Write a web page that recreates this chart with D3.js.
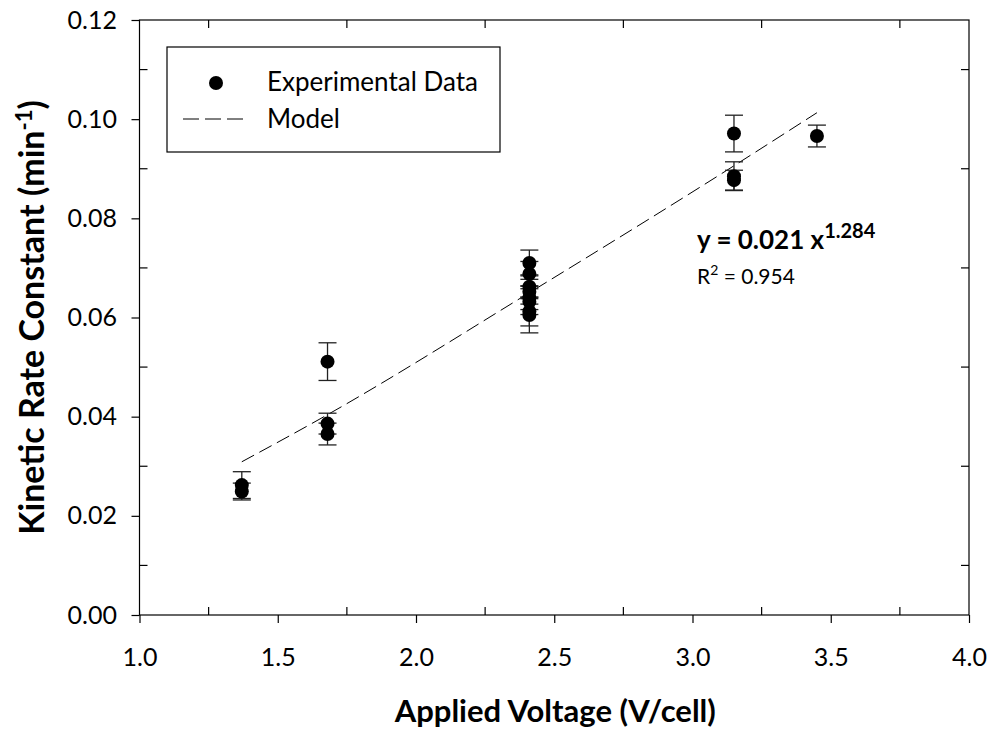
<!DOCTYPE html>
<html><head><meta charset="utf-8">
<script src="https://cdn.jsdelivr.net/npm/d3@7"></script>
<style>body{margin:0;background:#fff}svg{display:block}text{font-family:Lato,"Open Sans",sans-serif;fill:#000}</style>
</head><body>
<svg id="c" width="995" height="734"></svg>
<script>
// Data
const voltage = [1.37,1.37, 1.68,1.68,1.68, 2.41,2.41,2.41,2.41,2.41,2.41,2.41,2.41, 3.15,3.15,3.15, 3.45];
const rate    = [0.0262,0.0249, 0.0511,0.0386,0.0365, 0.0710,0.0688,0.0662,0.0652,0.0640,0.0632,0.0612,0.0605, 0.0971,0.0885,0.0877, 0.0966];
const rateErr = [0.0027,0.0017, 0.0038,0.0021,0.0022, 0.0026,0.0025,0.0024,0.0025,0.0024,0.0026,0.0029,0.0036, 0.0037,0.0029,0.0020, 0.0022];
const modelV  = [1.37,1.68,2.41,3.15,3.45];
const modelK  = [0.0309,0.0404,0.0650,0.0906,0.1013];
const xTicks = [1.0,1.5,2.0,2.5,3.0,3.5,4.0];
const xMinor = [1.25,1.75,2.25,2.75,3.25,3.75];
const yTicks = [0.00,0.02,0.04,0.06,0.08,0.10,0.12];
const yMinor = [0.01,0.03,0.05,0.07,0.09,0.11];

const L=139.5,R=969,T=20,B=615;
const x=d3.scaleLinear().domain([1,4]).range([L,R]);
const y=d3.scaleLinear().domain([0,0.12]).range([B,T]);
const svg=d3.select("#c");

// frame
svg.append("rect").attr("x",L).attr("y",T).attr("width",R-L).attr("height",B-T)
  .attr("fill","none").attr("stroke","#000").attr("stroke-width",1.2);

// axes
const ax=svg.append("g").attr("transform",`translate(0,${B})`)
  .call(d3.axisBottom(x).tickValues(xTicks).tickFormat(d3.format(".1f")).tickSize(8));
ax.selectAll("text").attr("y",51).attr("dy",0);
const ay=svg.append("g").attr("transform",`translate(${L},0)`)
  .call(d3.axisLeft(y).tickValues(yTicks).tickFormat(d3.format(".2f")).tickSize(8).tickPadding(14.5));
[ax,ay].forEach(g=>{g.select(".domain").remove();g.selectAll("line").attr("stroke","#000").attr("stroke-width",1.2);
  g.selectAll("text").style("font-size","25px").style("font-family","Lato,sans-serif").attr("fill","#000");});
// minor ticks inward
const mg=svg.append("g").attr("stroke","#000").attr("stroke-width",1.2);
xMinor.forEach(v=>{mg.append("line").attr("x1",x(v)).attr("x2",x(v)).attr("y1",B).attr("y2",B-8);
  mg.append("line").attr("x1",x(v)).attr("x2",x(v)).attr("y1",T).attr("y2",T+8);});
yMinor.forEach(v=>{mg.append("line").attr("x1",L).attr("x2",L+8).attr("y1",y(v)).attr("y2",y(v));
  mg.append("line").attr("x1",R).attr("x2",R-8).attr("y1",y(v)).attr("y2",y(v));});

// axis titles
svg.append("text").attr("x",(L+R)/2 + 1).attr("y",722).attr("text-anchor","middle")
  .style("font-size","31px").style("font-weight","bold").text("Applied Voltage (V/cell)");
const yt=svg.append("text").attr("transform",`translate(44,${(T+B)/2}) rotate(-90)`).attr("text-anchor","middle")
  .style("font-size","34px").style("font-weight","bold");
yt.append("tspan").text("Kinetic Rate Constant (min");
yt.append("tspan").attr("dy",-12).style("font-size","22px").text("-1");
yt.append("tspan").attr("dy",12).text(")");

// model line
const line=d3.line().x((d,i)=>x(modelV[i])).y((d,i)=>y(modelK[i])).curve(d3.curveMonotoneX);
svg.append("path").attr("d",line(modelV)).attr("fill","none").attr("stroke","#000")
  .attr("stroke-width",1).attr("stroke-dasharray","14,6");

// error bars
const eg=svg.append("g").attr("stroke","#222").attr("stroke-width",1.3);
voltage.forEach((v,i)=>{
  const cx=x(v),y1=y(rate[i]+rateErr[i]),y2=y(rate[i]-rateErr[i]);
  eg.append("line").attr("x1",cx).attr("x2",cx).attr("y1",y1).attr("y2",y2);
  eg.append("line").attr("x1",cx-9).attr("x2",cx+9).attr("y1",y1).attr("y2",y1);
  eg.append("line").attr("x1",cx-9).attr("x2",cx+9).attr("y1",y2).attr("y2",y2);
});
svg.append("g").selectAll("circle").data(voltage).join("circle")
  .attr("cx",d=>x(d)).attr("cy",(d,i)=>y(rate[i])).attr("r",7).attr("fill","#000");

// legend
svg.append("rect").attr("x",167).attr("y",47).attr("width",333).attr("height",105)
  .attr("fill","#fff").attr("stroke","#000").attr("stroke-width",1.2);
svg.append("circle").attr("cx",216).attr("cy",83).attr("r",7).attr("fill","#000");
svg.append("text").attr("x",267).attr("y",91).style("font-size","26px").text("Experimental Data");
svg.append("line").attr("x1",183).attr("x2",244).attr("y1",119).attr("y2",119)
  .attr("stroke","#000").attr("stroke-width",1).attr("stroke-dasharray","16,6");
svg.append("text").attr("x",267).attr("y",128).style("font-size","26px").text("Model");

// annotation
const a1=svg.append("text").attr("x",697).attr("y",249).style("font-size","26px").style("font-weight","bold");
a1.append("tspan").text("y = 0.021 x");
a1.append("tspan").attr("dy",-11).style("font-size","20px").text("1.284");
const a2=svg.append("text").attr("x",697).attr("y",284).style("font-size","21px");
a2.append("tspan").text("R");
a2.append("tspan").attr("dy",-9).style("font-size","14px").text("2");
a2.append("tspan").attr("dy",9).text(" = 0.954");
</script>
</body></html>
